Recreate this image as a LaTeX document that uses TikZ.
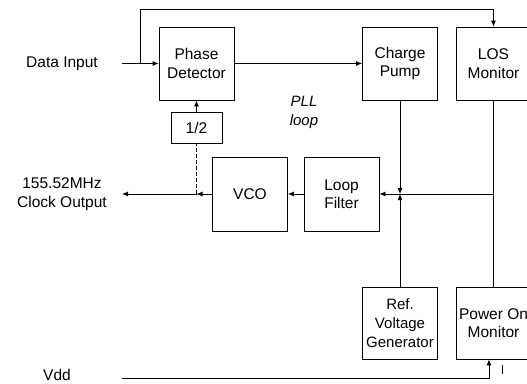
\documentclass[tikz,border=0pt]{standalone}
\usepackage{fontspec}
\setmainfont{Liberation Sans}
\usetikzlibrary{arrows.meta}
\begin{document}
\begin{tikzpicture}[x=1pt,y=-1pt,line width=0.8pt,
  txt/.style={font=\fontsize{15.5}{18.5}\selectfont},
  blk/.style={draw,txt,align=center,inner sep=0pt,minimum width=75pt,minimum height=73pt},
  lbl/.style={txt,align=center,inner sep=0pt},
  arr/.style={-{Latex[length=6pt,width=5pt]}},
  dsh/.style={dash pattern=on 4pt off 2pt}]
\useasboundingbox (0,0) rectangle (527,383);
% blocks
\node[blk] (pd)  at (196.5,63.5) {Phase\\Detector};
\node[blk] (cp)  at (400,63.5) {Charge\\Pump};
\node[blk] (los) at (493.5,63.5) {LOS\\Monitor};
\node[blk,minimum width=51pt,minimum height=31pt] (div) at (196.5,127.5) {1/2};
\node[blk,minimum height=74pt] (vco) at (250,194) {VCO};
\node[blk,minimum height=74pt] (lf)  at (341.5,194) {Loop\\Filter};
\node[blk,minimum height=72pt,font=\fontsize{15}{19}\selectfont] (ref) at (400,323) {Ref.\\Voltage\\Generator};
\node[blk,minimum height=72pt] (pom) at (493.5,323) {Power On\\Monitor};
% labels
\node[lbl] (din_t) at (62,64) {Data Input};
\node[lbl] (out_t) at (62,194) {155.52MHz\\Clock Output};
\node[lbl] (vdd_t) at (57,374.5) {Vdd};
\node[lbl,font=\fontsize{15}{19}\itshape] (pll) at (304,112) {PLL\\loop};
% coordinates
\coordinate (din) at (122,63.5);
\coordinate (tap) at (140,63.5);
\coordinate (top) at (140,9);
\coordinate (j) at (400,194);
\coordinate (out) at (122,194);
\coordinate (mid) at (196.5,194);
\coordinate (vdd) at (122,378);
\coordinate (vup) at (489,378);
% connectors
\draw[arr] (din) -- (pd.west);
\draw[arr] (tap) -- (top) -| (los.north);
\draw[arr] (pd.east) -- (cp.west);
\draw[arr] (cp.south) -- (j);
\draw[arr] (ref.north) -- (j);
\draw (los.south) -- (pom.north);
\draw[arr] (los.south |- j) -- (lf.east);
\draw[arr] (lf.west) -- (vco.east);
\draw[arr] (vco.west) -- (mid);
\draw[arr] (mid) -- (out);
\draw[dsh] (mid) -- (div.south);
\draw[arr] (div.north) -- (pd.south);
\draw[arr] (vdd) -- (vup) -- (vup |- pom.south);
\draw[line width=0.6pt] (502,365) -- (502,374);
\end{tikzpicture}
\end{document}
